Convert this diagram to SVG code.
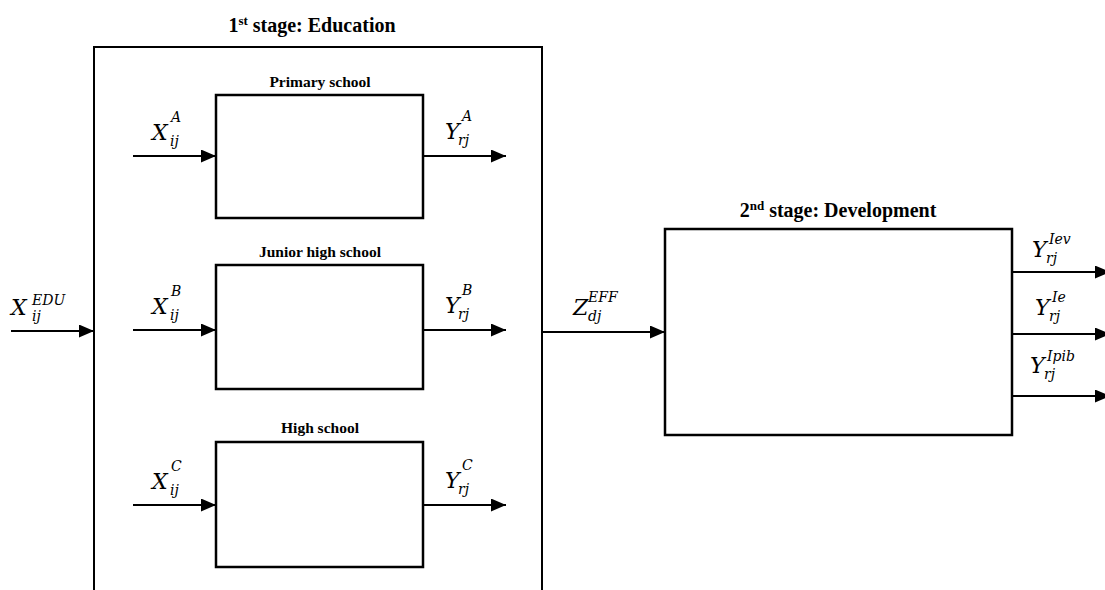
<svg xmlns="http://www.w3.org/2000/svg" width="1105" height="590" viewBox="0 0 1105 590">
<defs>
<marker id="ah" markerWidth="15" markerHeight="13" refX="15" refY="6.5" orient="auto" markerUnits="userSpaceOnUse">
<path d="M0,0 L15,6.5 L0,13 Z" fill="#000"/>
</marker>
<style>
.box{fill:#fff;stroke:#000;stroke-width:2.5}
.outer{fill:none;stroke:#000;stroke-width:2}
.title{font-family:"Liberation Serif","Times New Roman",serif;font-weight:bold;font-size:20px;text-anchor:middle}
.sub{font-family:"Liberation Serif","Times New Roman",serif;font-weight:bold;font-size:15.5px;text-anchor:middle}
.m{font-family:"DejaVu Serif",serif;font-style:italic;font-size:22px}
.s{font-family:"DejaVu Serif",serif;font-style:italic;font-size:14px}
.c{stroke:#000;stroke-width:2;fill:none;marker-end:url(#ah)}
</style>
</defs>
<rect width="1105" height="590" fill="#fff"/>

<g id="stage1">
<path class="outer" d="M94,600 L94,47 L542,47 L542,600"/>
<text class="title" x="312" y="32">1<tspan font-size="13" dy="-7">st</tspan><tspan dy="7"> stage: Education</tspan></text>
</g>

<g id="primary">
<rect class="box" x="216" y="95" width="207" height="123"/>
<text class="sub" x="320" y="87">Primary school</text>
</g>
<g id="junior">
<rect class="box" x="216" y="265" width="207" height="124"/>
<text class="sub" x="320" y="257">Junior high school</text>
</g>
<g id="high">
<rect class="box" x="216" y="442" width="207" height="125"/>
<text class="sub" x="320" y="433">High school</text>
</g>

<g id="stage2">
<rect class="box" x="665" y="229" width="347" height="206"/>
<text class="title" x="838" y="217">2<tspan font-size="13" dy="-7">nd</tspan><tspan dy="7"> stage: Development</tspan></text>
</g>

<g id="connectors">
<line class="c" x1="11" y1="331" x2="94" y2="331"/>
<line class="c" x1="133" y1="156" x2="216" y2="156"/>
<line class="c" x1="423" y1="156" x2="506" y2="156"/>
<line class="c" x1="133" y1="330" x2="216" y2="330"/>
<line class="c" x1="423" y1="330" x2="506" y2="330"/>
<line class="c" x1="133" y1="505" x2="216" y2="505"/>
<line class="c" x1="423" y1="505" x2="506" y2="505"/>
<line class="c" x1="542" y1="332" x2="665" y2="332"/>
<line class="c" x1="1012" y1="272" x2="1110" y2="272"/>
<line class="c" x1="1012" y1="334" x2="1110" y2="334"/>
<line class="c" x1="1012" y1="396" x2="1110" y2="396"/>
</g>

<g id="labels">
<text class="m" x="11" y="315">X</text><text class="s" x="32" y="305">EDU</text><text class="s" x="32" y="321">ij</text>
<text class="m" x="152" y="140">X</text><text class="s" x="171" y="122">A</text><text class="s" x="170" y="146">ij</text>
<text class="m" x="445" y="139">Y</text><text class="s" x="462" y="121">A</text><text class="s" x="458" y="145">rj</text>
<text class="m" x="152" y="314">X</text><text class="s" x="171" y="296">B</text><text class="s" x="170" y="320">ij</text>
<text class="m" x="445" y="313">Y</text><text class="s" x="462" y="295">B</text><text class="s" x="458" y="319">rj</text>
<text class="m" x="152" y="489">X</text><text class="s" x="171" y="471">C</text><text class="s" x="170" y="495">ij</text>
<text class="m" x="445" y="488">Y</text><text class="s" x="462" y="470">C</text><text class="s" x="458" y="494">rj</text>
<text class="m" x="573" y="315">Z</text><text class="s" x="588" y="302">EFF</text><text class="s" x="588" y="321">dj</text>
<text class="m" x="1032" y="257">Y</text><text class="s" x="1049" y="244">Iev</text><text class="s" x="1046" y="263">rj</text>
<text class="m" x="1035" y="315">Y</text><text class="s" x="1052" y="302">Ie</text><text class="s" x="1049" y="321">rj</text>
<text class="m" x="1030" y="373">Y</text><text class="s" x="1047" y="361">Ipib</text><text class="s" x="1044" y="379">rj</text>
</g>
</svg>
